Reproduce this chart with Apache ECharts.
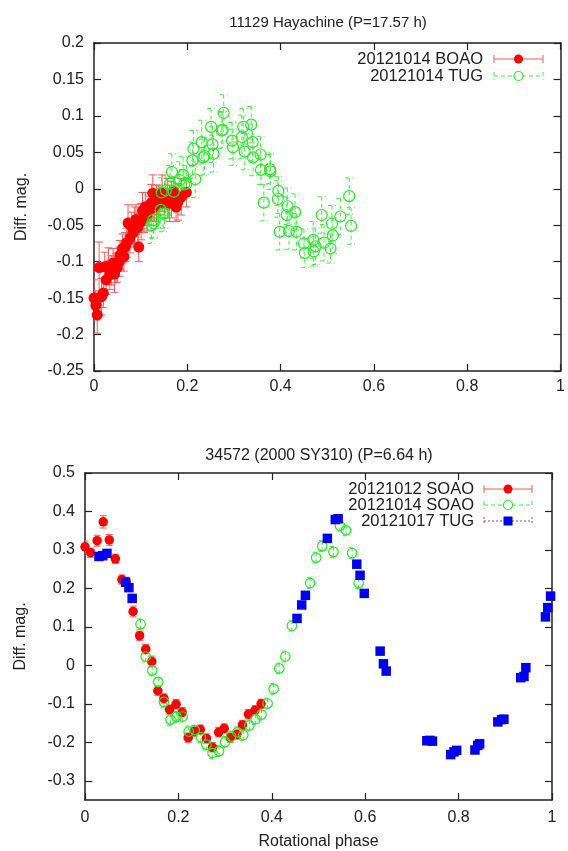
<!DOCTYPE html>
<html>
<head>
<meta charset="utf-8">
<script src="https://cdn.jsdelivr.net/npm/echarts@6/dist/echarts.min.js"></script>
<style>
html,body{margin:0;padding:0;background:#fff;}
#chart{width:568px;height:851px;}
</style>
</head>
<body>
<div id="chart"></div>
<script>
// ---------- DATA ----------
const title1 = '11129 Hayachine (P=17.57 h)';
const title2 = '34572 (2000 SY310) (P=6.64 h)';
const yName = 'Diff. mag.';
const xName = 'Rotational phase';

const names1 = ['20121014 BOAO', '20121014 TUG'];
const names2 = ['20121012 SOAO', '20121014 SOAO', '20121017 TUG'];

const yTicks2 = [-0.3, -0.2, -0.1, 0, 0.1, 0.2, 0.3, 0.4, 0.5];

// [phase, diff mag, error]
const hayBOAO = [
  [0.000,-0.150,0.025],[0.004,-0.160,0.020],[0.007,-0.173,0.025],[0.011,-0.108,0.035],
  [0.016,-0.148,0.025],[0.020,-0.143,0.020],[0.023,-0.107,0.020],[0.026,-0.125,0.020],
  [0.031,-0.106,0.025],[0.034,-0.118,0.020],[0.037,-0.112,0.020],[0.041,-0.102,0.020],
  [0.044,-0.117,0.025],[0.047,-0.109,0.020],[0.050,-0.108,0.020],[0.054,-0.100,0.020],
  [0.056,-0.091,0.020],[0.061,-0.082,0.020],[0.064,-0.093,0.020],[0.067,-0.080,0.020],
  [0.070,-0.074,0.020],[0.073,-0.047,0.025],[0.077,-0.068,0.020],[0.081,-0.052,0.020],
  [0.084,-0.060,0.020],[0.087,-0.050,0.025],[0.090,-0.042,0.020],[0.094,-0.053,0.020],
  [0.096,-0.080,0.020],[0.101,-0.045,0.025],[0.104,-0.030,0.025],[0.107,-0.040,0.020],
  [0.110,-0.025,0.020],[0.114,-0.038,0.020],[0.118,-0.030,0.020],[0.123,-0.019,0.025],
  [0.126,-0.006,0.025],[0.130,-0.025,0.020],[0.134,-0.020,0.025],[0.139,-0.015,0.020],
  [0.146,-0.006,0.025],[0.151,-0.020,0.020],[0.158,-0.011,0.025],[0.162,-0.020,0.025],
  [0.166,-0.015,0.025],[0.171,-0.004,0.020],[0.176,-0.025,0.020],[0.180,-0.018,0.025],
  [0.187,-0.011,0.025],[0.198,-0.005,0.020]
];

const hayTUG = [
  [0.123,-0.050,0.025],[0.127,-0.043,0.025],[0.128,-0.047,0.020],[0.143,-0.029,0.025],
  [0.145,-0.005,0.020],[0.148,-0.034,0.025],[0.151,-0.034,0.020],[0.154,-0.002,0.020],
  [0.163,0.007,0.025],[0.167,0.023,0.025],[0.171,-0.004,0.020],[0.184,0.012,0.025],
  [0.191,0.019,0.025],[0.193,0.006,0.020],[0.198,0.007,0.025],[0.211,0.039,0.025],
  [0.213,0.055,0.025],[0.217,0.013,0.025],[0.231,0.064,0.030],[0.234,0.043,0.025],
  [0.237,0.045,0.025],[0.251,0.085,0.025],[0.254,0.061,0.025],[0.256,0.048,0.025],
  [0.274,0.080,0.025],[0.276,0.081,0.025],[0.278,0.104,0.025],[0.296,0.066,0.025],
  [0.298,0.057,0.025],[0.317,0.071,0.030],[0.320,0.085,0.025],[0.323,0.051,0.025],
  [0.337,0.088,0.025],[0.340,0.064,0.025],[0.341,0.043,0.025],[0.357,0.047,0.025],
  [0.358,0.026,0.020],[0.364,-0.019,0.025],[0.377,0.027,0.020],[0.378,0.024,0.025],
  [0.394,-0.014,0.025],[0.395,-0.003,0.020],[0.398,-0.059,0.025],[0.413,-0.036,0.025],
  [0.415,-0.024,0.025],[0.418,-0.058,0.025],[0.431,-0.032,0.025],[0.434,-0.059,0.025],
  [0.450,-0.075,0.020],[0.452,-0.088,0.020],[0.470,-0.070,0.025],[0.471,-0.086,0.020],
  [0.475,-0.079,0.025],[0.488,-0.036,0.025],[0.493,-0.074,0.025],[0.507,-0.082,0.020],
  [0.510,-0.048,0.025],[0.512,-0.064,0.025],[0.528,-0.038,0.025],[0.547,-0.010,0.025],
  [0.551,-0.051,0.025]
];

const syRed = [
  [0.000,0.308,0.015],[0.012,0.293,0.012],[0.026,0.324,0.014],[0.039,0.373,0.016],
  [0.052,0.326,0.014],[0.065,0.277,0.012],[0.079,0.223,0.012],[0.088,0.217,0.012],
  [0.103,0.140,0.014],[0.117,0.077,0.012],[0.130,0.042,0.012],[0.143,0.010,0.014],
  [0.156,-0.066,0.012],[0.169,-0.086,0.012],[0.181,-0.115,0.012],[0.195,-0.101,0.012],
  [0.208,-0.122,0.012],[0.221,-0.188,0.012],[0.234,-0.172,0.012],[0.247,-0.167,0.012],
  [0.260,-0.190,0.012],[0.273,-0.213,0.012],[0.286,-0.174,0.012],[0.298,-0.164,0.012],
  [0.311,-0.188,0.012],[0.325,-0.180,0.012],[0.337,-0.155,0.012],[0.350,-0.127,0.012],
  [0.364,-0.117,0.012],[0.377,-0.100,0.012]
];

const syGreen = [
  [0.119,0.107,0.014],[0.130,0.023,0.014],[0.144,-0.013,0.014],[0.157,-0.043,0.012],
  [0.169,-0.095,0.014],[0.183,-0.141,0.016],[0.196,-0.134,0.014],[0.209,-0.133,0.014],
  [0.222,-0.172,0.014],[0.235,-0.168,0.012],[0.248,-0.187,0.014],[0.260,-0.206,0.014],
  [0.273,-0.228,0.014],[0.287,-0.223,0.014],[0.300,-0.199,0.014],[0.313,-0.185,0.014],
  [0.326,-0.174,0.014],[0.339,-0.181,0.014],[0.352,-0.156,0.014],[0.365,-0.140,0.014],
  [0.378,-0.128,0.014],[0.391,-0.099,0.014],[0.404,-0.061,0.014],[0.416,-0.008,0.014],
  [0.429,0.023,0.014],[0.443,0.103,0.014],[0.482,0.214,0.014],[0.495,0.280,0.014],
  [0.508,0.310,0.014],[0.532,0.295,0.014],[0.546,0.363,0.014],[0.559,0.351,0.014],
  [0.572,0.292,0.014],[0.586,0.214,0.014]
];

const syBlue = [
  [0.030,0.283,0.008],[0.038,0.285,0.008],[0.047,0.291,0.008],[0.087,0.216,0.008],
  [0.094,0.202,0.008],[0.101,0.174,0.008],[0.454,0.122,0.008],[0.464,0.157,0.008],
  [0.472,0.182,0.008],[0.519,0.330,0.008],[0.536,0.379,0.008],[0.542,0.381,0.008],
  [0.582,0.263,0.008],[0.589,0.234,0.008],[0.598,0.187,0.008],[0.632,0.037,0.008],
  [0.639,0.004,0.008],[0.645,-0.015,0.008],[0.732,-0.196,0.008],[0.738,-0.195,0.008],
  [0.744,-0.197,0.008],[0.783,-0.232,0.008],[0.790,-0.225,0.008],[0.796,-0.221,0.008],
  [0.835,-0.220,0.008],[0.841,-0.208,0.008],[0.845,-0.204,0.008],[0.884,-0.147,0.008],
  [0.892,-0.141,0.008],[0.897,-0.140,0.008],[0.933,-0.032,0.008],[0.940,-0.029,0.008],
  [0.944,-0.006,0.008],[0.986,0.126,0.008],[0.991,0.150,0.008],[0.997,0.180,0.008]
];

// ---------- STYLE ----------
const FONT = 'Liberation Sans, Arial, sans-serif';
const AX = '#222';
const RED = '#ff0000', RED_BAR = '#ff5a5a';
const GREEN = '#22ee22', GREEN_BAR = '#44ee44';
const BLUE = '#0000ee', BLUE_BAR = '#5555ff';

function fmt(v){ return String(parseFloat(v.toFixed(2))); }

function errSeries(data, xi, yi, color, dash, cap, width){
  return {
    type: 'custom', xAxisIndex: xi, yAxisIndex: yi, silent: true, clip: true,
    data: data,
    renderItem: function(params, api){
      const x = api.value(0), y = api.value(1), e = api.value(2);
      const p1 = api.coord([x, y + e]);
      const p2 = api.coord([x, y - e]);
      const st = {stroke: color, lineWidth: width, lineDash: dash};
      return {type: 'group', children: [
        {type: 'line', shape: {x1: p1[0], y1: p1[1], x2: p2[0], y2: p2[1]}, style: st},
        {type: 'line', shape: {x1: p1[0]-cap, y1: p1[1], x2: p1[0]+cap, y2: p1[1]}, style: st},
        {type: 'line', shape: {x1: p2[0]-cap, y1: p2[1], x2: p2[0]+cap, y2: p2[1]}, style: st}
      ]};
    },
    z: 2
  };
}

function markSeries(name, data, xi, yi, symbol, size, filled, color){
  return {
    name: name, type: 'scatter', xAxisIndex: xi, yAxisIndex: yi,
    data: data.map(d => [d[0], d[1]]),
    symbol: symbol, symbolSize: size, silent: true,
    itemStyle: filled ? {color: color, borderWidth: 0, opacity: 1}
                      : {color: 'rgba(0,0,0,0)', borderColor: color, borderWidth: 1.2, opacity: 1},
    z: 3
  };
}

function axisBase(){
  return {
    axisLine: {show: true, onZero: false, lineStyle: {color: AX, width: 1.5}},
    axisTick: {show: true, inside: true, length: 7, lineStyle: {color: AX, width: 1.2}},
    splitLine: {show: false}
  };
}

const grids = [
  {left: 94, top: 43, width: 467, height: 328},
  {left: 85, top: 473, width: 467, height: 327}
];

const labelStyle = {color: '#222', fontFamily: FONT, fontSize: 16};

const xAxes = [
  Object.assign(axisBase(), {gridIndex: 0, type: 'value', min: 0, max: 1, interval: 0.2, position: 'bottom',
    axisLabel: Object.assign({margin: 8, formatter: fmt}, labelStyle)}),
  Object.assign(axisBase(), {gridIndex: 0, type: 'value', min: 0, max: 1, interval: 0.2, position: 'top',
    axisLabel: {show: false}}),
  Object.assign(axisBase(), {gridIndex: 1, type: 'value', min: 0, max: 1, interval: 0.2, position: 'bottom',
    name: xName, nameLocation: 'middle', nameGap: 34,
    nameTextStyle: {color: '#222', fontFamily: FONT, fontSize: 16},
    axisLabel: Object.assign({margin: 10, formatter: fmt}, labelStyle)}),
  Object.assign(axisBase(), {gridIndex: 1, type: 'value', min: 0, max: 1, interval: 0.2, position: 'top',
    axisLabel: {show: false}})
];

const yAxes = [
  Object.assign(axisBase(), {gridIndex: 0, type: 'value', min: -0.25, max: 0.2, interval: 0.05, position: 'left',
    name: yName, nameLocation: 'middle', nameGap: 64,
    nameTextStyle: {color: '#222', fontFamily: FONT, fontSize: 16},
    axisLabel: Object.assign({margin: 10, formatter: fmt}, labelStyle)}),
  Object.assign(axisBase(), {gridIndex: 0, type: 'value', min: -0.25, max: 0.2, interval: 0.05, position: 'right',
    axisLabel: {show: false}}),
  Object.assign(axisBase(), {gridIndex: 1, type: 'value', min: -0.35, max: 0.5, position: 'left',
    name: yName, nameLocation: 'middle', nameGap: 56,
    nameTextStyle: {color: '#222', fontFamily: FONT, fontSize: 16},
    axisTick: {show: true, inside: true, length: 7, lineStyle: {color: AX, width: 1.2}, customValues: yTicks2},
    axisLabel: Object.assign({margin: 10, formatter: fmt, customValues: yTicks2}, labelStyle)}),
  Object.assign(axisBase(), {gridIndex: 1, type: 'value', min: -0.35, max: 0.5, position: 'right',
    axisTick: {show: true, inside: true, length: 7, lineStyle: {color: AX, width: 1.2}, customValues: yTicks2},
    axisLabel: {show: false, customValues: yTicks2}})
];

const series = [
  errSeries(hayBOAO, 0, 0, RED_BAR, null, 4, 1),
  markSeries(names1[0], hayBOAO, 0, 0, 'circle', 11, true, RED),
  errSeries(hayTUG, 0, 0, GREEN_BAR, [4, 3], 4, 1),
  markSeries(names1[1], hayTUG, 0, 0, 'circle', 11, false, GREEN),

  errSeries(syRed, 2, 2, RED_BAR, null, 3.5, 1),
  markSeries(names2[0], syRed, 2, 2, 'circle', 9.5, true, RED),
  errSeries(syGreen, 2, 2, GREEN_BAR, [4, 3], 3.5, 1),
  markSeries(names2[1], syGreen, 2, 2, 'circle', 9.5, false, GREEN),
  errSeries(syBlue, 2, 2, BLUE_BAR, [2, 2], 3.5, 1),
  markSeries(names2[2], syBlue, 2, 2, 'rect', 9.5, true, BLUE)
];

// ---------- LEGEND (drawn as graphic, gnuplot style: text left, sample right) ----------
function legendItem(name, textRight, y, x1, x2, color, barColor, dash, marker){
  const mid = (x1 + x2) / 2;
  const st = {stroke: barColor, lineWidth: 1, lineDash: dash};
  const items = [
    {type: 'text', x: textRight, y: y,
      style: {text: name, fill: '#222', font: '16.5px ' + FONT, textAlign: 'right', textVerticalAlign: 'middle'}},
    {type: 'line', shape: {x1: x1, y1: y, x2: x2, y2: y}, style: st},
    {type: 'line', shape: {x1: x1, y1: y - 4, x2: x1, y2: y + 4}, style: st},
    {type: 'line', shape: {x1: x2, y1: y - 4, x2: x2, y2: y + 4}, style: st}
  ];
  if (marker === 'fill') items.push({type: 'circle', shape: {cx: mid, cy: y, r: 4.5}, style: {fill: color}});
  if (marker === 'open') items.push({type: 'circle', shape: {cx: mid, cy: y, r: 4.5}, style: {fill: '#fff', stroke: color, lineWidth: 1.2}});
  if (marker === 'rect') items.push({type: 'rect', shape: {x: mid - 4.5, y: y - 4.5, width: 9, height: 9}, style: {fill: color}});
  return items;
}

const graphics = [].concat(
  legendItem(names1[0], 483, 59, 494, 543, RED, RED_BAR, null, 'fill'),
  legendItem(names1[1], 483, 76, 494, 543, GREEN, GREEN_BAR, [4, 3], 'open'),
  legendItem(names2[0], 474, 489, 484, 532, RED, RED_BAR, null, 'fill'),
  legendItem(names2[1], 474, 505, 484, 532, GREEN, GREEN_BAR, [4, 3], 'open'),
  legendItem(names2[2], 474, 521, 484, 532, BLUE, BLUE_BAR, [2, 2], 'rect')
);

const option = {
  backgroundColor: '#fff',
  animation: false,
  title: [
    {text: title1, left: 323, top: 10, textAlign: 'center',
      textStyle: {fontFamily: FONT, fontSize: 15, fontWeight: 'normal', color: '#222'}},
    {text: title2, left: 314, top: 443, textAlign: 'center',
      textStyle: {fontFamily: FONT, fontSize: 16, fontWeight: 'normal', color: '#222'}}
  ],
  grid: grids,
  xAxis: xAxes,
  yAxis: yAxes,
  series: series,
  graphic: graphics
};

const chart = echarts.init(document.getElementById('chart'), null, {renderer: 'canvas'});
chart.setOption(option);
</script>
</body>
</html>
